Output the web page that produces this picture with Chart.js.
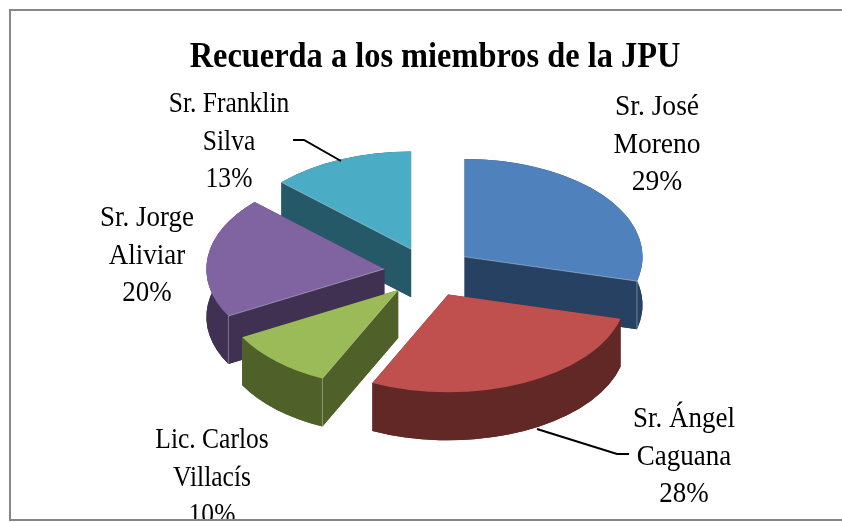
<!DOCTYPE html>
<html>
<head>
<meta charset="utf-8">
<title>Recuerda a los miembros de la JPU</title>
<script src="https://cdn.jsdelivr.net/npm/chart.js@4"></script>
<style>
  html, body { margin: 0; background: #fff; }
  canvas { display: block; }
</style>
</head>
<body>
<canvas id="pieChart" width="842" height="522"></canvas>
<script>
const chartTitle = 'Recuerda a los miembros de la JPU';
const members = ['Sr. José Moreno', 'Sr. Ángel Caguana', 'Lic. Carlos Villacís', 'Sr. Jorge Aliviar', 'Sr. Franklin Silva'];
const labelLines = [['Sr. José', 'Moreno'], ['Sr. Ángel', 'Caguana'], ['Lic. Carlos', 'Villacís'], ['Sr. Jorge', 'Aliviar'], ['Sr. Franklin', 'Silva']];
const percents = [29, 28, 10, 20, 13];
const topColors = ['#4f81bd', '#c0504d', '#9bbb59', '#8064a2', '#4bacc6'];
const sideColors = ['#274162', '#622826', '#4f6029', '#403152', '#255967'];

// look of the tilted pie
const pieCenter = { x: 429, y: 272 };
const tilt = 0.55;
const depth = 48;
const explode = 45;
const pieRadius = 178;
const drawOrder = [4, 0, 3, 2, 1];
const frontEdges = { 0: 'endAngle', 2: 'startAngle', 3: 'startAngle', 4: 'startAngle' };

// label anchors: centre x, first baseline, horizontal squeeze
const labelPos = [[657, 115, 0.95], [684, 427, 0.93], [212, 448, 0.88], [147, 226, 0.93], [229, 112, 0.88]];
const lineGap = 37.6;
const leaders = [
  [[537, 429], [617, 454], [629, 454]],
  [[293, 140], [304, 140], [341, 161]]
];

function squeezedText(ctx, text, x, y, font, squeeze) {
  ctx.save();
  ctx.font = font;
  ctx.textAlign = 'center';
  ctx.textBaseline = 'alphabetic';
  ctx.fillStyle = '#000';
  ctx.translate(x, y);
  ctx.scale(squeeze, 1);
  ctx.fillText(text, 0, 0);
  ctx.restore();
}

function sector(ctx, cx, cy, arc) {
  ctx.beginPath();
  ctx.moveTo(cx, cy);
  ctx.arc(cx, cy, arc.outerRadius, arc.startAngle, arc.endAngle);
  ctx.closePath();
  ctx.fill();
}

function radialWall(ctx, cx, cy, r, drop, angle) {
  const px = cx + Math.cos(angle) * r;
  const py = cy + Math.sin(angle) * r;
  ctx.beginPath();
  ctx.moveTo(cx, cy);
  ctx.lineTo(px, py);
  ctx.lineTo(px, py + drop);
  ctx.lineTo(cx, cy + drop);
  ctx.closePath();
  ctx.fill();
}

// side walls of one slice, seen below its top face
function drawSides(ctx, arc, color) {
  const drop = depth / tilt;
  const { x: cx, y: cy, outerRadius: r, startAngle, endAngle } = arc;
  ctx.fillStyle = color;
  sector(ctx, cx, cy + drop, arc);
  radialWall(ctx, cx, cy, r, drop, startAngle);
  radialWall(ctx, cx, cy, r, drop, endAngle);
  ctx.beginPath();
  ctx.arc(cx, cy, r, startAngle, endAngle);
  ctx.arc(cx, cy + drop, r, endAngle, startAngle, true);
  ctx.closePath();
  ctx.fill();
}

function drawEdgeLight(ctx, arc, i) {
  const angle = arc[frontEdges[i]];
  const px = arc.x + Math.cos(angle) * arc.outerRadius;
  const py = arc.y + Math.sin(angle) * arc.outerRadius;
  ctx.save();
  ctx.strokeStyle = 'rgba(255,255,255,0.45)';
  ctx.lineWidth = 1;
  ctx.beginPath();
  ctx.moveTo(arc.x, arc.y);
  ctx.lineTo(px, py);
  if (i !== 4) {
    ctx.moveTo(px, py);
    ctx.lineTo(px, py + depth / tilt);
  }
  ctx.stroke();
  ctx.restore();
}

const tiltedPie = {
  id: 'tiltedPie',
  beforeDatasetsDraw(chart) {
    const ctx = chart.ctx;
    const arcs = chart.getDatasetMeta(0).data;
    ctx.save();
    ctx.translate(pieCenter.x, pieCenter.y);
    ctx.scale(1, tilt);
    ctx.translate(-arcs[0].x, -arcs[0].y);
    drawOrder.forEach(i => {
      const arc = arcs[i];
      const mid = (arc.startAngle + arc.endAngle) / 2;
      ctx.save();
      // pull the slice out along its middle angle
      ctx.translate(Math.cos(mid) * explode, Math.sin(mid) * explode);
      drawSides(ctx, arc, sideColors[i]);
      arc.draw(ctx);
      if (frontEdges[i]) drawEdgeLight(ctx, arc, i);
      ctx.restore();
    });
    ctx.restore();
    return false;
  },
  afterDraw(chart) {
    const ctx = chart.ctx;

    // data labels, the last one runs into the frame
    ctx.save();
    ctx.beginPath();
    ctx.rect(0, 0, 842, 520);
    ctx.clip();
    labelLines.forEach((lines, i) => {
      const [x, y, squeeze] = labelPos[i];
      const rows = [...lines, percents[i] + '%'];
      rows.forEach((row, r) => {
        squeezedText(ctx, row, x, y + r * lineGap, '29px "Liberation Serif"', squeeze);
      });
    });
    ctx.restore();

    ctx.strokeStyle = '#000';
    ctx.lineWidth = 2;
    leaders.forEach(pts => {
      ctx.beginPath();
      pts.forEach((p, i) => i ? ctx.lineTo(p[0], p[1]) : ctx.moveTo(p[0], p[1]));
      ctx.stroke();
    });

    squeezedText(ctx, chartTitle, 435, 67, 'bold 36px "Liberation Serif"', 0.9);

    // chart frame, open on the right
    ctx.strokeStyle = '#868686';
    ctx.lineWidth = 2;
    ctx.beginPath();
    ctx.moveTo(842, 10);
    ctx.lineTo(10, 10);
    ctx.lineTo(10, 520);
    ctx.lineTo(842, 520);
    ctx.stroke();
  }
};

new Chart(document.getElementById('pieChart'), {
  type: 'pie',
  data: {
    labels: members,
    datasets: [{
      data: percents,
      backgroundColor: topColors,
      borderWidth: 0,
      clip: false
    }]
  },
  options: {
    responsive: false,
    animation: false,
    radius: pieRadius,
    plugins: {
      legend: { display: false },
      title: { display: false },
      tooltip: { enabled: false }
    }
  },
  plugins: [tiltedPie]
});
</script>
</body>
</html>
